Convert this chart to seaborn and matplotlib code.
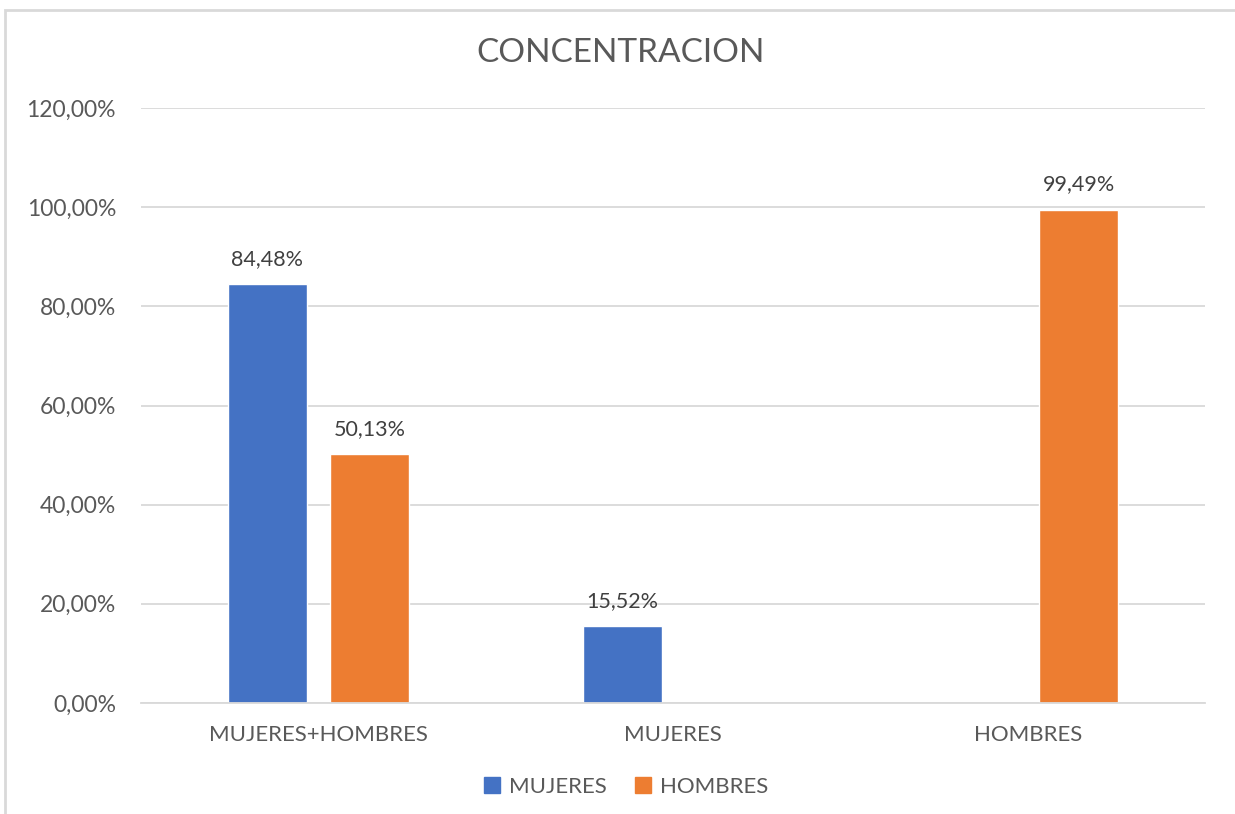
import numpy as np
import pandas as pd
import matplotlib
matplotlib.use("Agg")
import matplotlib.pyplot as plt
import seaborn as sns
from matplotlib.patches import Rectangle

# data
categories = ["MUJERES+HOMBRES", "MUJERES", "HOMBRES"]
series = ["MUJERES", "HOMBRES"]
mujeres = [84.48, 15.52, np.nan]
hombres = [50.13, np.nan, 99.49]
yticks = [0, 20, 40, 60, 80, 100, 120]
colors = {"MUJERES": "#4472C4", "HOMBRES": "#ED7D31"}

df = pd.DataFrame({
    "categoria": categories * 2,
    "serie": ["MUJERES"] * 3 + ["HOMBRES"] * 3,
    "valor": mujeres + hombres,
}).dropna()

sns.set_style("white")
plt.rcParams["font.family"] = ["Lato", "DejaVu Sans"]
txt = "#595959"
grid = "#D9D9D9"

fig = plt.figure(figsize=(12.35, 8.14), dpi=100)
ax = fig.add_axes([141 / 1235, 1 - 703 / 814, (1205 - 141) / 1235, (703 - 108) / 814])

sns.barplot(data=df, x="categoria", y="valor", hue="serie", order=categories,
            hue_order=series, palette=colors, width=0.575, gap=0.225,
            saturation=1, legend=False, ax=ax)

for cont in ax.containers:
    labs = [f"{b.get_height():.2f}%".replace(".", ",") for b in cont]
    ax.bar_label(cont, labels=labs, padding=11, fontsize=15.5, color="#404040")

ax.set_ylim(0, 120)
ax.set_yticks(yticks)
ax.set_yticklabels([f"{v:.2f}%".replace(".", ",") for v in yticks])
ax.set_xlabel("")
ax.set_ylabel("")
ax.yaxis.grid(True, color=grid, linewidth=1.3)
ax.set_axisbelow(True)
for s in ["left", "right", "top"]:
    ax.spines[s].set_visible(False)
ax.spines["bottom"].set_color(grid)
ax.spines["bottom"].set_linewidth(1.3)
ax.tick_params(axis="y", length=0, colors=txt, labelsize=16.5, pad=18)
ax.tick_params(axis="x", length=0, colors=txt, labelsize=16, pad=16)

fig.text(621 / 1235, 1 - 53 / 814, "CONCENTRACION", ha="center", va="center",
         fontsize=24, color=txt)

handles = [Rectangle((0, 0), 1, 1, color=colors[s]) for s in series]
fig.legend(handles, series, loc="center", bbox_to_anchor=(626 / 1235, 1 - 787 / 814),
           ncol=2, frameon=False, fontsize=16, labelcolor=txt, handlelength=0.7,
           handleheight=0.7, handletextpad=0.4, columnspacing=1.3)

# chart frame
fig.patches.append(Rectangle((5 / 1235, -0.01), 1.2, 1 - 10 / 814 + 0.01,
                             transform=fig.transFigure, fill=False,
                             edgecolor=grid, linewidth=2))

fig.savefig("out.png", dpi=100)
